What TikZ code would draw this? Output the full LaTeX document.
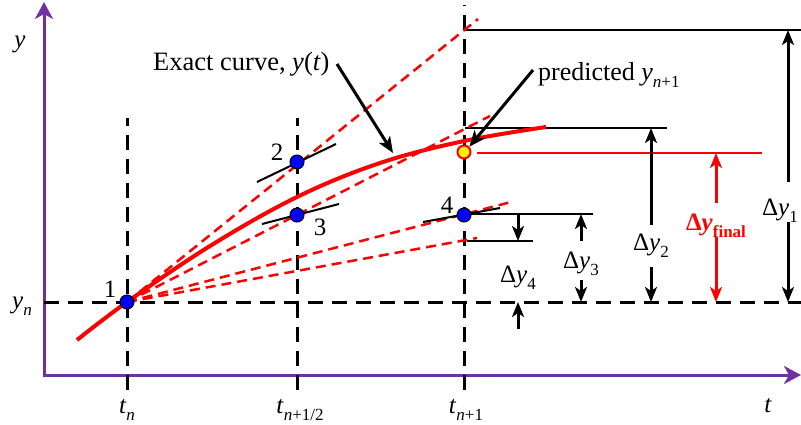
\documentclass[tikz,border=0pt]{standalone}
\usepackage{fontspec}
\setmainfont{Liberation Serif}
\usetikzlibrary{arrows.meta}
\definecolor{axpurple}{RGB}{112,48,160}
\newcommand\labfont{\fontsize{25}{28}\selectfont}
\newcommand\sbs[1]{\raisebox{-0.28em}{\fontsize{17}{18}\selectfont #1}}
\begin{document}
\begin{tikzpicture}[x=1pt,y=-1pt,
  lab/.style={font=\labfont, inner sep=0pt, anchor=base},
  guide/.style={black, line width=3pt, dash pattern=on 15pt off 9pt},
  tang/.style={red, line width=2.5pt, dash pattern=on 10pt off 6pt},
  slopeseg/.style={black, line width=2pt},
  dimline/.style={black, line width=1.6pt},
  dimarrow/.style={black, line width=3pt, -{Stealth[length=15pt,width=12pt,inset=4pt]}},
  pointer/.style={black, line width=3pt, -{Stealth[length=16pt,width=13pt,inset=4pt]}},
  axis/.style={axpurple, line width=3pt, line join=miter,
    {Stealth[length=17pt,width=18pt,inset=5pt]}-{Stealth[length=17pt,width=18pt,inset=5pt]}},
  stage/.style={circle, fill=blue, draw=black, line width=1pt, minimum size=14pt, inner sep=0pt},
  predpt/.style={circle, fill=yellow, draw=red, line width=2pt, minimum size=13pt, inner sep=0pt},
  ]
\useasboundingbox (0,0) rectangle (801,424);

% axes
\coordinate (ytop) at (44,2);
\coordinate (O) at (44,375);
\coordinate (xend) at (801,375);
\draw[axis] (ytop) -- (O) -- (xend);
\node[lab] (ylab) at (20,47) {\textit{y}};
\node[lab] (tlab) at (768,412) {\textit{t}};

% guide lines
\draw[guide] (127,390) -- (127,118);
\draw[guide] (297,390) -- (297,118);
\draw[guide] (464,390) -- (464,5);
\draw[guide] (44,302) -- (801,302);

\node[lab] (yn) at (22,308) {\textit{y}\sbs{\textit{n}}};
\node[lab] (tn) at (127,413) {\textit{t}\sbs{\textit{n}}};
\node[lab] (tnh) at (300,413) {\textit{t}\sbs{\textit{n}+1/2}};
\node[lab] (tn1) at (466,413) {\textit{t}\sbs{\textit{n}+1}};

% key coordinates
\coordinate (c1) at (127,302);
\coordinate (c2) at (297,162);
\coordinate (c3) at (297,215);
\coordinate (c4) at (464,215);
\coordinate (cp) at (464,152);

% dimension reference lines
\draw[dimline] (465,30) -- (805,30);
\draw[dimline] (465,128) -- (667,128);
\draw[red, line width=1.6pt] (477,153) -- (762,153);
\draw[dimline] (467,214) -- (593,214);
\draw[dimline] (467,241) -- (533,241);

% tangent (dashed) lines from point 1
\draw[tang] (c1) -- (478,19);
\draw[tang] (c1) -- (490,116);
\draw[tang] (c1) -- (511,202);
\draw[tang] (c1) -- (477,238);

% exact curve
\draw[red, line width=4pt] plot[smooth, tension=0.6] coordinates
  {(77,340) (127,302) (210,246) (297,197) (380,163) (464,141) (546,127)};

% slope segments
\draw[slopeseg] (257,182) -- (336,144);
\draw[slopeseg] (262,224) -- (339,204);
\draw[slopeseg] (423,222) -- (500,208);

% points
\node[stage] (p1) at (c1) {};
\node[stage] (p2) at (c2) {};
\node[stage] (p3) at (c3) {};
\node[stage] (p4) at (c4) {};
\node[predpt] (pp) at (cp) {};
\node[lab] (n1) at (110,297) {1};
\node[lab] (n2) at (277,160) {2};
\node[lab] (n3) at (320,235) {3};
\node[lab] (n4) at (447,213) {4};

% annotations
\node[lab, anchor=base west, font=\fontsize{26.5}{29}\selectfont] (exact) at (153,70) {Exact curve, \textit{y}(\textit{t})};
\coordinate (exs) at (337,64);
\coordinate (ext) at (393,153);
\draw[pointer] (exs) -- (ext);
\node[lab, anchor=base west, font=\fontsize{26}{29}\selectfont] (pred) at (538,80) {predicted \textit{y}\sbs{\textit{n}+1}};
\coordinate (prs) at (533,70);
\draw[pointer] (prs) -- (pp.north east);

% delta y1
\node[lab] (d1) at (780,215) {Δ\textit{y}\sbs{1}};
\draw[dimarrow] (788,182) -- (788,30);
\draw[dimarrow] (788,222) -- (788,302);
% delta y2
\node[lab] (d2) at (651,250) {Δ\textit{y}\sbs{2}};
\draw[dimarrow] (651,225) -- (651,128);
\draw[dimarrow] (651,267) -- (651,302);
% delta y final
\node[lab, red, font=\labfont\bfseries] (df) at (716,230) {Δ\textit{y}\sbs{final}};
\draw[dimarrow, red] (716,203) -- (716,153);
\draw[dimarrow, red] (716,237) -- (716,302);
% delta y3
\node[lab] (d3) at (581,268) {Δ\textit{y}\sbs{3}};
\draw[dimarrow] (581,241) -- (581,214);
\draw[dimarrow] (581,280) -- (581,302);
% delta y4
\node[lab] (d4) at (518,282) {Δ\textit{y}\sbs{4}};
\draw[dimarrow] (518,214) -- (518,241);
\draw[dimarrow] (518,329) -- (518,302);
\end{tikzpicture}
\end{document}
